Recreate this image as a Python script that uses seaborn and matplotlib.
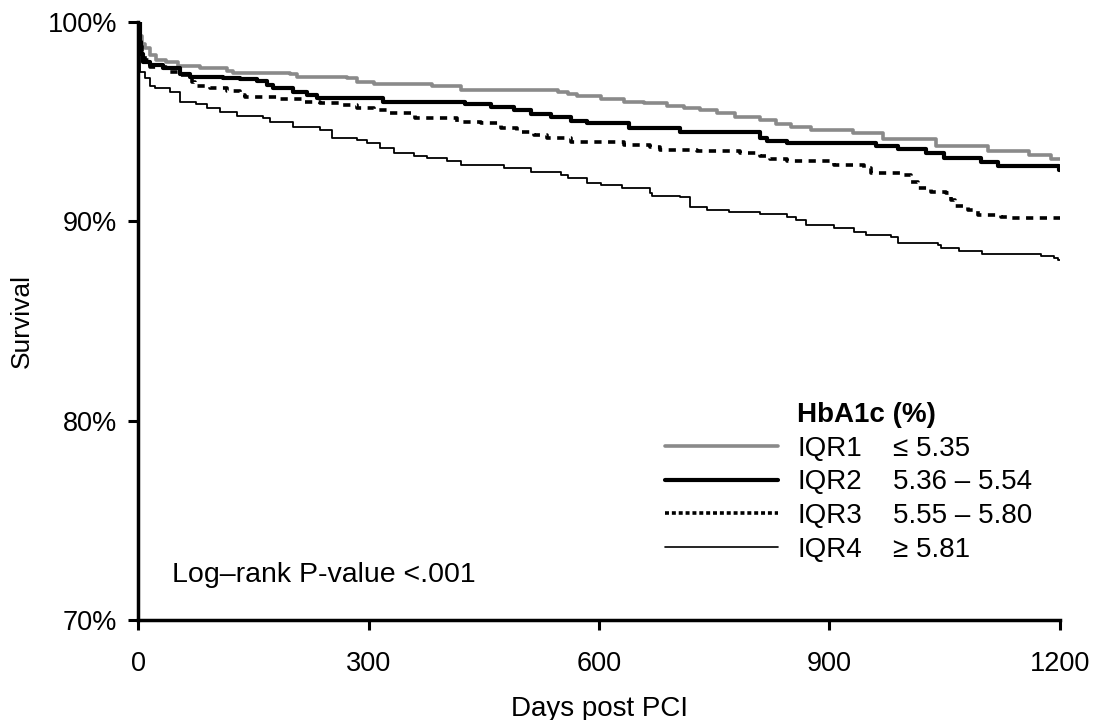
import matplotlib
matplotlib.use("Agg")
import matplotlib.pyplot as plt
from matplotlib.lines import Line2D
from matplotlib.ticker import FuncFormatter
import pandas as pd
import seaborn as sns

# Kaplan-Meier survival by HbA1c quartile (days after PCI, survival in %)
groups = ["IQR1", "IQR2", "IQR3", "IQR4"]
ranges = ["\u2264 5.35", "5.36 \u2013 5.54", "5.55 \u2013 5.80", "\u2265 5.81"]

iqr1_days = [0, 2, 5, 9, 15, 24, 37, 52, 81, 116, 124, 198, 207, 272, 285, 307, 383, 420, 546, 560,
             572, 602, 632, 658, 689, 710, 732, 754, 777, 810, 830, 850, 876, 930, 969, 1038, 1106,
             1160, 1188, 1200]
iqr1_surv = [100, 99.3, 98.9, 98.67, 98.33, 98.08, 98.0, 97.8, 97.66, 97.53, 97.41, 97.36, 97.24,
             97.19, 96.99, 96.88, 96.78, 96.58, 96.46, 96.36, 96.28, 96.13, 95.99, 95.91, 95.79,
             95.69, 95.57, 95.44, 95.24, 95.07, 94.87, 94.71, 94.57, 94.41, 94.11, 93.77, 93.53,
             93.32, 93.12, 93.12]

iqr2_days = [0, 2, 4, 7, 16, 33, 55, 68, 111, 133, 155, 168, 176, 202, 220, 233, 319, 426, 459, 489,
             511, 537, 563, 585, 639, 706, 810, 819, 845, 960, 989, 1026, 1049, 1097, 1119, 1199, 1200]
iqr2_surv = [100, 99.0, 98.4, 98.0, 97.83, 97.66, 97.36, 97.24, 97.19, 97.11, 97.03, 96.83, 96.69,
             96.46, 96.33, 96.16, 95.99, 95.88, 95.74, 95.57, 95.36, 95.21, 95.02, 94.91, 94.66,
             94.46, 94.16, 94.04, 93.9, 93.77, 93.62, 93.43, 93.15, 92.98, 92.77, 92.57, 92.57]

iqr3_days = [0, 2, 5, 9, 16, 37, 55, 70, 74, 94, 116, 133, 139, 181, 215, 237, 263, 285, 307, 324,
             361, 415, 446, 472, 493, 515, 532, 563, 632, 667, 680, 728, 784, 810, 823, 845, 906, 945,
             954, 993, 1006, 1015, 1032, 1051, 1058, 1064, 1080, 1093, 1123, 1132, 1200]
iqr3_surv = [100, 99.0, 98.5, 98.1, 97.74, 97.49, 97.33, 96.99, 96.79, 96.66, 96.53, 96.33, 96.21,
             96.13, 95.96, 95.91, 95.82, 95.69, 95.57, 95.41, 95.16, 94.99, 94.91, 94.69, 94.49,
             94.32, 94.16, 93.99, 93.82, 93.7, 93.57, 93.52, 93.4, 93.27, 93.1, 93.03, 92.82, 92.65,
             92.43, 92.32, 91.98, 91.65, 91.48, 91.4, 91.06, 90.76, 90.56, 90.31, 90.23, 90.15, 90.15]

iqr4_days = [0, 1, 3, 9, 16, 22, 42, 55, 76, 90, 107, 129, 163, 172, 202, 237, 252, 285, 298, 315,
             333, 359, 376, 402, 420, 476, 511, 550, 559, 585, 602, 630, 667, 669, 706, 719, 741, 769,
             810, 845, 856, 869, 906, 932, 947, 980, 989, 1041, 1045, 1069, 1099, 1175, 1192, 1198, 1200]
iqr4_surv = [100, 98.5, 97.5, 97.16, 96.78, 96.66, 96.46, 95.99, 95.86, 95.66, 95.49, 95.29, 95.16,
             94.96, 94.74, 94.57, 94.19, 94.07, 93.9, 93.65, 93.43, 93.28, 93.18, 93.03, 92.82,
             92.65, 92.48, 92.32, 92.15, 91.9, 91.82, 91.65, 91.43, 91.26, 91.2, 90.7, 90.56, 90.45,
             90.35, 90.23, 90.06, 89.81, 89.64, 89.47, 89.31, 89.19, 88.92, 88.81, 88.67, 88.52,
             88.36, 88.26, 88.14, 88.06, 88.06]

x_ticks = [0, 300, 600, 900, 1200]
y_ticks = [70, 80, 90, 100]

frames = []
for g, d, s in zip(groups,
                   [iqr1_days, iqr2_days, iqr3_days, iqr4_days],
                   [iqr1_surv, iqr2_surv, iqr3_surv, iqr4_surv]):
    frames.append(pd.DataFrame({"group": g, "day": d, "survival": s}))
df = pd.concat(frames, ignore_index=True)

sns.set_theme(style="ticks")
plt.rcParams["font.family"] = ["Liberation Sans", "DejaVu Sans"]
plt.rcParams.update({"text.color": "black", "axes.labelcolor": "black",
                     "xtick.color": "black", "ytick.color": "black"})

line_styles = {
    "IQR1": dict(color="#8a8a8a", lw=2.6, linestyle="-"),
    "IQR2": dict(color="black", lw=3.0, linestyle="-"),
    "IQR3": dict(color="black", lw=2.6, linestyle=(0, (2.0, 1.8))),
    "IQR4": dict(color="black", lw=1.3, linestyle="-"),
}

fig = plt.figure(figsize=(10.99, 7.2), dpi=100)
ax = fig.add_axes([0.1256, 0.1389, 0.8389, 0.8310])

for g in groups:
    sub = df[df["group"] == g]
    sns.lineplot(data=sub, x="day", y="survival", estimator=None, sort=False,
                 drawstyle="steps-post", ax=ax, legend=False, **line_styles[g])

ax.set_xlim(0, 1200)
ax.set_ylim(70, 100)
ax.set_xticks(x_ticks)
ax.set_yticks(y_ticks)
ax.yaxis.set_major_formatter(FuncFormatter(lambda v, _: f"{v:.0f}%"))

for side in ("top", "right"):
    ax.spines[side].set_visible(False)
for side in ("left", "bottom"):
    ax.spines[side].set_linewidth(2.5)
    ax.spines[side].set_color("black")

ax.tick_params(axis="both", direction="out", length=7, width=2.2, color="black",
               labelsize=19.5, labelcolor="black")
ax.tick_params(axis="y", pad=8)
ax.tick_params(axis="x", pad=15)

ax.set_xlabel("Days post PCI", fontsize=20, color="black", labelpad=14)
ax.set_ylabel("Survival", fontsize=19, color="black", labelpad=10)

ax.text(0.037, 0.075, "Log\u2013rank P-value <.001", transform=ax.transAxes,
        fontsize=20.5, color="black", ha="left", va="center")

# Legend: handles with group names, plus a second column of HbA1c ranges
blank = Line2D([], [], color="none")
handles = [blank] + [
    Line2D([], [], color="#8a8a8a", lw=2.6),
    Line2D([], [], color="black", lw=3.0),
    Line2D([], [], color="black", lw=2.6, linestyle=(0, (1.1, 0.8))),
    Line2D([], [], color="black", lw=1.2),
]
fs = 20
common = dict(loc="upper left", bbox_transform=fig.transFigure, frameon=False,
              fontsize=fs, borderpad=0, borderaxespad=0, labelspacing=0.275)
top = 1 - 402 / 720
leg1 = ax.legend(handles, ["HbA1c (%)"] + groups, bbox_to_anchor=(665 / 1099, top),
                 handlelength=113 / (fs * 100 / 72), handletextpad=19 / (fs * 100 / 72), **common)
leg1.get_texts()[0].set_fontweight("bold")
ax.add_artist(leg1)
leg2 = ax.legend([blank] * 5, [" "] + ranges, bbox_to_anchor=(893 / 1099, top),
                 handlelength=0, handletextpad=0, **common)

fig.savefig("out.png", dpi=100, facecolor="white")
